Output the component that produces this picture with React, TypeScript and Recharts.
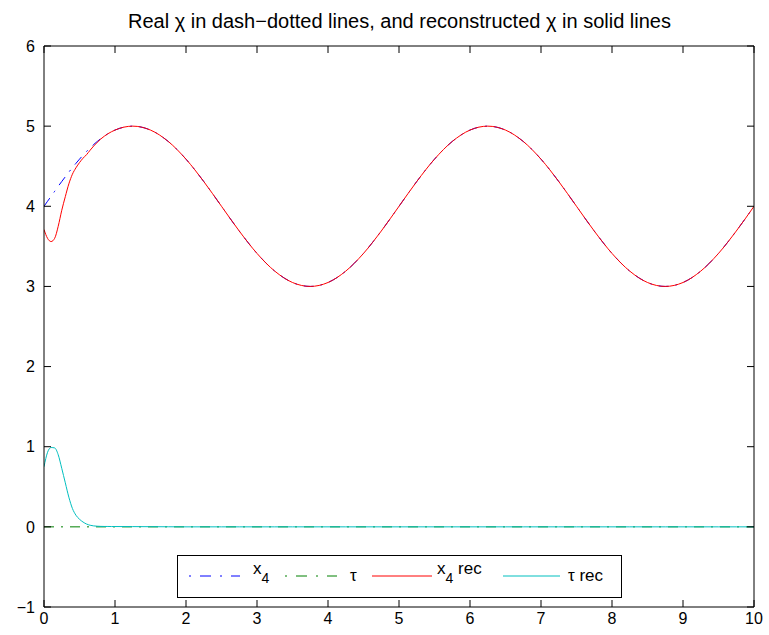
import { LineChart, Line, XAxis, YAxis, Legend } from 'recharts';

// sample times (fine near the start, where the reconstruction converges)
const time = [
  0, 0.05, 0.1, 0.15, 0.2, 0.25, 0.3, 0.35, 0.4, 0.45, 0.5, 0.55, 0.6, 0.65, 0.7, 0.75, 0.8, 0.85, 0.9, 0.95,
  1, 1.25, 1.5, 1.75, 2, 2.25, 2.5, 2.75, 3, 3.25, 3.5, 3.75, 4, 4.25, 4.5, 4.75, 5, 5.25, 5.5, 5.75, 6, 6.25,
  6.5, 6.75, 7, 7.25, 7.5, 7.75, 8, 8.25, 8.5, 8.75, 9, 9.25, 9.5, 9.75, 10,
];

const x4Real = [
  4.0, 4.063, 4.125, 4.187, 4.249, 4.309, 4.368, 4.426, 4.482, 4.536, 4.588, 4.637, 4.685, 4.729, 4.771, 4.809,
  4.844, 4.876, 4.905, 4.93, 4.951, 5.0, 4.951, 4.809, 4.588, 4.309, 4.0, 3.691, 3.412, 3.191, 3.049, 3.0, 3.049,
  3.191, 3.412, 3.691, 4.0, 4.309, 4.588, 4.809, 4.951, 5.0, 4.951, 4.809, 4.588, 4.309, 4.0, 3.691, 3.412, 3.191,
  3.049, 3.0, 3.049, 3.191, 3.412, 3.691, 4.0,
];

const x4Rec = [
  3.71, 3.6, 3.56, 3.6, 3.75, 3.95, 4.12, 4.28, 4.4, 4.48, 4.545, 4.6, 4.645, 4.7, 4.752, 4.798,
  4.84, 4.875, 4.905, 4.93, 4.951, 5.0, 4.951, 4.809, 4.588, 4.309, 4.0, 3.691, 3.412, 3.191, 3.049, 3.0, 3.049,
  3.191, 3.412, 3.691, 4.0, 4.309, 4.588, 4.809, 4.951, 5.0, 4.951, 4.809, 4.588, 4.309, 4.0, 3.691, 3.412, 3.191,
  3.049, 3.0, 3.049, 3.191, 3.412, 3.691, 4.0,
];

const tauRec = [
  0.75, 0.93, 0.99, 0.985, 0.9, 0.73, 0.55, 0.37, 0.23, 0.145, 0.095, 0.06, 0.035, 0.02, 0.012, 0.008,
  0.006, 0.005, 0.005, 0.004, 0.004, 0.003, 0.002, 0.001, 0, 0, 0, 0, 0, 0, 0, 0, 0,
  0, 0, 0, 0, 0, 0, 0, 0, 0, 0, 0, 0, 0, 0, 0, 0, 0,
  0, 0, 0, 0, 0, 0, 0,
];

const tauTime = [0, 10];
const tauReal = [0, 0];

const xTicks = [0, 1, 2, 3, 4, 5, 6, 7, 8, 9, 10];
const yTicks = [-1, 0, 1, 2, 3, 4, 5, 6];

const title = 'Real \u03c7 in dash\u2212dotted lines, and reconstructed \u03c7 in solid lines';

const rows = time.map((t, i) => ({ t, x4: x4Real[i], x4rec: x4Rec[i], taurec: tauRec[i] }));
const tauRows = tauTime.map((t, i) => ({ t, tau: tauReal[i] }));

const FONT = '"Liberation Sans", Arial, Helvetica, sans-serif';
const DASHDOT = '10 7 2 7';

// plot box edges (px) — margins below are derived from these
const LEFT = 44;
const RIGHT = 754;
const TOP = 46;
const BOTTOM = 607;
const TICK_LEN = 7;

// labels plus MATLAB-style inward ticks on both opposite sides
function XTick(p: any) {
  return (
    <g>
      <line x1={p.x} x2={p.x} y1={BOTTOM} y2={BOTTOM - TICK_LEN} stroke="#000" />
      <line x1={p.x} x2={p.x} y1={TOP} y2={TOP + TICK_LEN} stroke="#000" />
      <text x={p.x} y={p.y} dy="0.71em" textAnchor="middle" fill="#000" fontSize={16} fontFamily={FONT}>
        {p.payload.value}
      </text>
    </g>
  );
}

function YTick(p: any) {
  const v = p.payload.value;
  return (
    <g>
      <line x1={LEFT} x2={LEFT + TICK_LEN} y1={p.y} y2={p.y} stroke="#000" />
      <line x1={RIGHT} x2={RIGHT - TICK_LEN} y1={p.y} y2={p.y} stroke="#000" />
      <text x={p.x} y={p.y} dy="0.355em" textAnchor="end" fill="#000" fontSize={16} fontFamily={FONT}>
        {v < 0 ? `\u2212${-v}` : `${v}`}
      </text>
    </g>
  );
}

function LegendBox() {
  return (
    <svg width={446} height={44} style={{ display: 'block' }}>
      <rect x={0.5} y={0.5} width={444} height={42} fill="#fff" stroke="#000" strokeWidth={1} />
      <g fontFamily={FONT} fontSize={17} fill="#000">
        <line x1={12} x2={63} y1={21} y2={21} stroke="#0000ff" strokeDasharray="2 9 11 9" />
        <text x={76} y={19}>x<tspan fontSize={14} dy={9}>4</tspan></text>
        <line x1={108} x2={160} y1={21} y2={21} stroke="#008000" strokeDasharray="2 9 11 9" />
        <text x={173} y={26}>{'\u03c4'}</text>
        <line x1={195} x2={255} y1={21} y2={21} stroke="#ff0000" />
        <text x={260} y={19}>x<tspan fontSize={14} dy={9}>4</tspan><tspan dy={-9}> rec</tspan></text>
        <line x1={326} x2={383} y1={21} y2={21} stroke="#00bfbf" />
        <text x={391} y={26}>{'\u03c4 rec'}</text>
      </g>
    </svg>
  );
}

export default function App() {
  return (
    <div style={{ position: 'absolute', left: 0, top: 0, width: 769, height: 635, background: '#fff' }}>
      <div
        style={{
          position: 'absolute',
          left: 0,
          width: 769,
          top: 10,
          textAlign: 'center',
          paddingLeft: 30,
          boxSizing: 'border-box',
          fontFamily: FONT,
          fontSize: 20,
          color: '#000',
          whiteSpace: 'nowrap',
        }}
      >
        {title}
      </div>
      <LineChart
        width={769}
        height={635}
        margin={{ top: TOP - 1, right: 769 - RIGHT - 1, bottom: 0, left: 0 }}
      >
        <XAxis
          dataKey="t"
          type="number"
          domain={[0, 10]}
          ticks={xTicks}
          allowDataOverflow
          height={635 - BOTTOM}
          tickSize={0}
          tickMargin={6}
          axisLine={{ stroke: '#000' }}
          tickLine={false}
          tick={XTick}
        />
        <XAxis
          xAxisId="top"
          orientation="top"
          dataKey="t"
          type="number"
          domain={[0, 10]}
          allowDataOverflow
          height={1}
          tick={false}
          tickLine={false}
          axisLine={{ stroke: '#000' }}
        />
        <YAxis
          type="number"
          domain={[-1, 6]}
          ticks={yTicks}
          allowDataOverflow
          width={LEFT}
          tickSize={0}
          tickMargin={9}
          axisLine={{ stroke: '#000' }}
          tickLine={false}
          tick={YTick}
        />
        <YAxis
          yAxisId="right"
          orientation="right"
          type="number"
          domain={[-1, 6]}
          allowDataOverflow
          width={1}
          tick={false}
          tickLine={false}
          axisLine={{ stroke: '#000' }}
        />
        {/* invisible carrier so the top/right box axes get a scale */}
        <Line xAxisId="top" yAxisId="right" data={tauRows} dataKey="tau" stroke="none" dot={false} legendType="none" isAnimationActive={false} />
        <Line
          data={rows}
          dataKey="x4"
          type="monotone"
          stroke="#0000ff"
          strokeWidth={1}
          strokeDasharray={DASHDOT}
          dot={false}
          isAnimationActive={false}
        />
        <Line
          data={tauRows}
          dataKey="tau"
          type="linear"
          stroke="#008000"
          strokeWidth={1}
          strokeDasharray={DASHDOT}
          dot={false}
          isAnimationActive={false}
        />
        <Line
          data={rows}
          dataKey="x4rec"
          type="monotone"
          stroke="#ff0000"
          strokeWidth={1}
          dot={false}
          isAnimationActive={false}
        />
        <Line
          data={rows}
          dataKey="taurec"
          type="monotone"
          stroke="#00bfbf"
          strokeWidth={1}
          dot={false}
          isAnimationActive={false}
        />
        <Legend
          layout="horizontal"
          align="center"
          verticalAlign="middle"
          content={() => <LegendBox />}
          wrapperStyle={{ position: 'absolute', left: 177, top: 555, width: 446, height: 44 }}
        />
      </LineChart>
    </div>
  );
}
